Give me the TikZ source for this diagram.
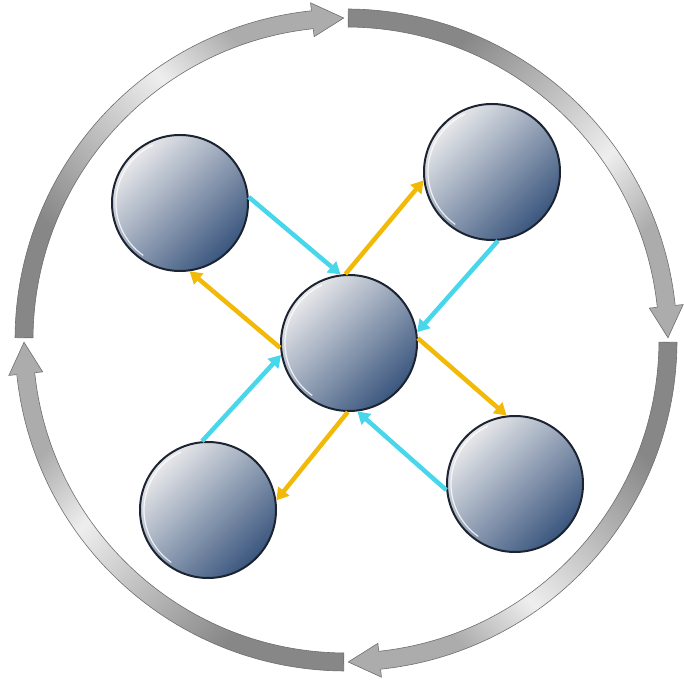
\documentclass[tikz,border=0pt]{standalone}
\usetikzlibrary{arrows.meta}
\definecolor{nLight}{RGB}{234,234,236}
\definecolor{nMid}{RGB}{165,174,190}
\definecolor{nDark}{RGB}{58,86,126}
\definecolor{nEdge}{RGB}{28,36,50}
\definecolor{aCyan}{RGB}{72,214,234}
\definecolor{aGold}{RGB}{242,186,8}
\definecolor{rDark}{RGB}{135,135,135}
\definecolor{rMid}{RGB}{238,238,238}
\definecolor{rHead}{RGB}{172,172,172}
\definecolor{rEdge}{RGB}{110,110,110}
\pgfdeclareverticalshading{ringfade}{100bp}{color(0bp)=(rDark); color(30bp)=(rDark); color(58bp)=(rMid); color(70bp)=(rHead); color(100bp)=(rHead)}

\begin{document}
\begin{tikzpicture}[
			x=1pt,y=1pt,
			ball/.style={
				circle,
				draw=nEdge,
				line width=2pt,
				inner sep=0pt,
				minimum size=136pt,
				top color=nLight,
				middle color=nMid,
				bottom color=nDark,
				shading angle=45
			},
			inarr/.style={-{Triangle[length=12pt,width=14pt]},line width=4.5pt,draw=aCyan},
			outarr/.style={-{Triangle[length=12pt,width=14pt]},line width=4.5pt,draw=aGold},
			ringarc/.style={draw=rEdge,line width=0.6pt,shading=ringfade}
			]
			\useasboundingbox (0,0) rectangle (684,684);
			\coordinate (mid) at (346,344);
			% outer cycle, four arcs
			\foreach \s/\a in {180/-45,90/-135,0/135,-90/45}{
				\shadedraw[ringarc,shading angle=\a]
				([shift={(\s-0.4:331)}]mid) arc[start angle=\s-0.4,end angle=\s-84,radius=331]
				-- ([shift={(\s-84:339)}]mid)
				-- ([shift={(\s-89.6:322)}]mid)
				-- ([shift={(\s-84:305)}]mid)
				-- ([shift={(\s-84:313)}]mid)
				arc[start angle=\s-84,end angle=\s-0.4,radius=313]
				-- cycle;
			}
			\node[ball](tl) at (180,481){};
			\node[ball](tr) at (492,512){};
			\node[ball](ct) at (349,341){};
			\node[ball](bl) at (208,174){};
			\node[ball](br) at (515,200){};
			% white rim on the left of each ball
			\foreach \n in {tl,tr,ct,bl,br}
				\draw[white,line width=1.2pt,opacity=0.8]
				([shift={(115:64)}]\n.center) arc[start angle=115,end angle=235,radius=64];
			\draw[inarr](tl.5)--(ct.97);
			\draw[inarr](tr.-85)--(ct.9);
			\draw[inarr](br.185)--(ct.-83);
			\draw[inarr](bl.95)--(ct.190);
			\draw[outarr](ct.93)--(tr.187);
			\draw[outarr](ct.4)--(br.97);
			\draw[outarr](ct.-91)--(bl.8);
			\draw[outarr](ct.184)--(tl.-82);
		\end{tikzpicture}
\end{document}
